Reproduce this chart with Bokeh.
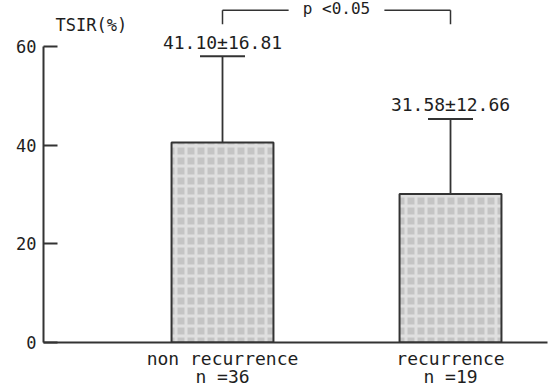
from bokeh.plotting import figure
from bokeh.models import Range1d, FixedTicker, Label, Whisker, TeeHead, ColumnDataSource
from bokeh.core.properties import value
from bokeh.embed import file_html
from bokeh.resources import INLINE

# ---- data ----
categories = ["non recurrence\nn =36", "recurrence\nn =19"]
xpos = [1, 2]
means = [40.5, 30.1]          # bar heights as drawn
upper = [58.0, 45.3]          # mean + SD (error bar tops as drawn)
value_labels = ["41.10\u00b116.81", "31.58\u00b112.66"]
yticks = [0, 20, 40, 60]
y_title = "TSIR(%)"
p_text = "p <0.05"

FONT = "DejaVu Sans Mono"
TXT = "#1e1e1e"
LINE = "#333333"

p = figure(width=555, height=389,
           x_range=Range1d(0.2149, 2.4254), y_range=Range1d(0, 69.29),
           output_backend="svg", toolbar_location=None,
           min_border_left=43, min_border_right=8,
           min_border_top=0, min_border_bottom=46)
p.outline_line_color = None
p.xgrid.grid_line_color = None
p.ygrid.grid_line_color = None
p.background_fill_color = "white"
p.border_fill_color = "white"

# bars
p.vbar(x=xpos, top=means, bottom=0, width=0.447,
       fill_color="#c4c4c4", line_color=LINE, line_width=2,
       hatch_pattern="cross", hatch_color="#e2e2e2", hatch_scale=10,
       hatch_weight=3, hatch_alpha=0.9)

# error bars (upper only)
src = ColumnDataSource(dict(x=xpos, lower=means, upper=upper))
w = Whisker(source=src, base="x", lower="lower", upper="upper",
            line_color=LINE, line_width=1.8,
            upper_head=TeeHead(size=45, line_color=LINE, line_width=2),
            lower_head=None)
p.add_layout(w)

# value labels
p.text(x=xpos, y=upper, text=value_labels, text_align="center",
       text_baseline="middle", y_offset=-14,
       text_font=value(FONT), text_font_size="18px", text_color=TXT)

# significance bracket
x1, x2 = xpos
xm = (x1 + x2) / 2
top_y, end_y, gap = 67.33, 64.5, 0.21
p.segment(x0=[x1, x1, xm + gap, x2], y0=[end_y, top_y, top_y, top_y],
          x1=[x1, xm - gap, x2, x2], y1=[top_y, top_y, top_y, end_y],
          line_color=LINE, line_width=1.5)
p.text(x=[xm], y=[top_y], text=[p_text], text_align="center",
       text_baseline="middle", y_offset=-2,
       text_font=value(FONT), text_font_size="16px", text_color=TXT)

# y title
p.add_layout(Label(x=12, y=64.3, x_units="screen", y_units="data", text=y_title,
                   text_baseline="middle", text_font=FONT,
                   text_font_size="17px", text_color=TXT))

# y axis
ya = p.yaxis[0]
ya.ticker = FixedTicker(ticks=yticks)
ya.bounds = (0, 60)
ya.major_tick_in = 14
ya.major_tick_out = 0
ya.minor_tick_line_color = None
ya.axis_line_width = 2
ya.axis_line_color = LINE
ya.major_tick_line_width = 2
ya.major_tick_line_color = LINE
ya.major_label_standoff = 7
ya.major_label_text_font = FONT
ya.major_label_text_font_size = "17px"
ya.major_label_text_color = TXT

# x axis
xa = p.xaxis[0]
xa.ticker = FixedTicker(ticks=xpos)
xa.major_label_overrides = {x: c for x, c in zip(xpos, categories)}
xa.major_tick_in = 0
xa.major_tick_out = 0
xa.minor_tick_line_color = None
xa.axis_line_width = 2
xa.axis_line_color = LINE
xa.major_label_standoff = 5
xa.major_label_text_font = FONT
xa.major_label_text_font_size = "18px"
xa.major_label_text_line_height = 0.88
xa.major_label_text_color = TXT

open("out.html", "w").write(file_html(p, INLINE))
